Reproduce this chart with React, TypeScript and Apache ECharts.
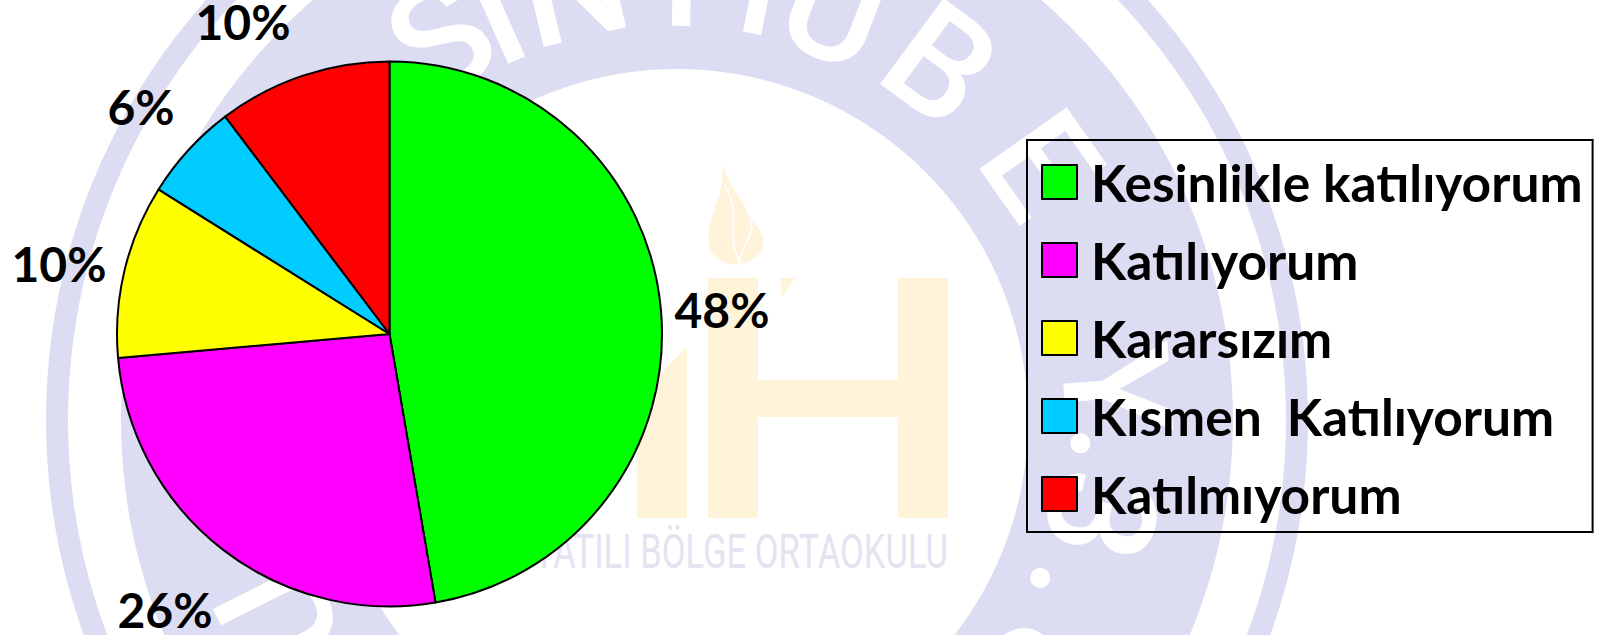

import React, { useEffect, useRef } from "react";
import * as echarts from "echarts";

const categories = ["Kesinlikle katılıyorum", "Katılıyorum", "Kararsızım", "Kısmen  Katılıyorum", "Katılmıyorum"];
const sliceValues = [47.3, 26.3, 10.3, 5.8, 10.3];
const printedLabels = ["48%", "26%", "10%", "6%", "10%"];
const sliceColors = ["#00ff00", "#ff00ff", "#ffff00", "#00ccff", "#ff0000"];
const labelCentres = [[722, 309], [165, 609], [59, 263], [141, 106], [243, 21]];

const waterLetters = ["S", "I", "N", "T", "I", "U", "B", "E", "Y", "3", "S", "U"];
const waterAngles = [-31.8, -24, -13.5, 0.6, 11, 21, 36.5, 54.9, 86, 102.7, 125.8, -116.7];
const waterRadii = [448, 445, 445, 445, 445, 440, 442, 443, 439, 433, 440, 444];
const waterDots = [[93.3, 404], [113.5, 396]];

const LAV = "#dcdcf2";
const ORG = "#fff3d9";
const CX = 677, CY = 420;

echarts.graphic.registerShape(
  "flame",
  echarts.graphic.extendPath(
    "M722 163 C730 190 745 200 752 220 C770 240 768 255 740 265 C715 265 704 250 710 225 C714 205 725 190 722 163 Z",
    {}
  )
);

function watermark(): any[] {
  const base = { silent: true, z: 0 };
  const items: any[] = [
    { ...base, type: "ring", shape: { cx: CX, cy: CY, r: 631, r0: 609 }, style: { fill: LAV } },
    { ...base, type: "ring", shape: { cx: CX, cy: CY, r: 556, r0: 351 }, style: { fill: LAV } },
    { ...base, type: "rect", shape: { x: 708, y: 278, width: 50, height: 240 }, style: { fill: ORG } },
    { ...base, type: "rect", shape: { x: 898, y: 278, width: 50, height: 240 }, style: { fill: ORG } },
    { ...base, type: "rect", shape: { x: 758, y: 380, width: 140, height: 37 }, style: { fill: ORG } },
    { ...base, type: "polygon", shape: { points: [[637, 518], [637, 397], [687, 347], [687, 518]] }, style: { fill: ORG } },
    { ...base, type: "polygon", shape: { points: [[780, 278], [795, 278], [782, 297]] }, style: { fill: ORG } },
    { ...base, type: "flame", style: { fill: ORG } },
    { ...base, type: "bezierCurve", shape: { x1: 724, y1: 185, x2: 742, y2: 265, cpx1: 745, cpy1: 215, cpx2: 722, cpy2: 235 }, style: { fill: "none", stroke: "#ffffff", lineWidth: 2 } },
    { ...base, type: "bezierCurve", shape: { x1: 745, y1: 205, x2: 738, y2: 265, cpx1: 762, cpy1: 235, cpx2: 742, cpy2: 240 }, style: { fill: "none", stroke: "#ffffff", lineWidth: 2 } },
    {
      ...base, type: "text", x: 948, y: 551, scaleX: 0.72,
      style: { text: "YATILI BÖLGE ORTAOKULU", fill: "#e3e3f1", font: "400 48px Roboto", textAlign: "right", textVerticalAlign: "middle" },
    },
  ];
  waterLetters.forEach((ch, i) => {
    const a = (waterAngles[i] * Math.PI) / 180;
    items.push({
      ...base, type: "text",
      x: CX + waterRadii[i] * Math.sin(a), y: CY - waterRadii[i] * Math.cos(a),
      rotation: -a,
      style: { text: ch, fill: "#ffffff", font: "500 150px Roboto", textAlign: "center", textVerticalAlign: "middle" },
    });
  });
  waterDots.forEach(([deg, r]) => {
    const a = (deg * Math.PI) / 180;
    items.push({ ...base, type: "circle", shape: { cx: CX + r * Math.sin(a), cy: CY - r * Math.cos(a), r: 10 }, style: { fill: "#ffffff" } });
  });
  return items;
}

export default function App() {
  const ref = useRef<HTMLDivElement>(null);
  useEffect(() => {
    const chart = echarts.init(ref.current!, undefined, { renderer: "svg" });
    chart.setOption({
      animation: false,
      backgroundColor: "#ffffff",
      graphic: { elements: watermark() },
      legend: {
        orient: "vertical", left: 1027, top: 140,
        padding: [16, 10, 12, 14],
        borderColor: "#000", borderWidth: 2,
        itemWidth: 35, itemHeight: 34, itemGap: 26,
        icon: "rect", selectedMode: false,
        textStyle: { fontFamily: "Lato", fontWeight: 700, fontSize: 51.5, color: "#000", padding: [0, 0, 0, 9] },
        data: categories,
      },
      series: [{
        type: "pie", center: [389.5, 334], radius: [0, 272.5], startAngle: 90, clockwise: true,
        avoidLabelOverlap: false,
        itemStyle: { borderColor: "#000", borderWidth: 2 },
        label: {
          show: true, position: "outside", fontFamily: "Lato", fontWeight: 700, fontSize: 48, color: "#000",
          formatter: (p: any) => printedLabels[p.dataIndex],
        },
        labelLine: { show: false },
        labelLayout: (p: any) => ({ x: labelCentres[p.dataIndex][0], y: labelCentres[p.dataIndex][1], align: "center", verticalAlign: "middle" }),
        data: categories.map((name, i) => ({ name, value: sliceValues[i], itemStyle: { color: sliceColors[i] } })),
      }],
    });
    return () => chart.dispose();
  }, []);
  return <div ref={ref} style={{ position: "fixed", left: 0, top: 0, width: 1609, height: 635 }} />;
}
